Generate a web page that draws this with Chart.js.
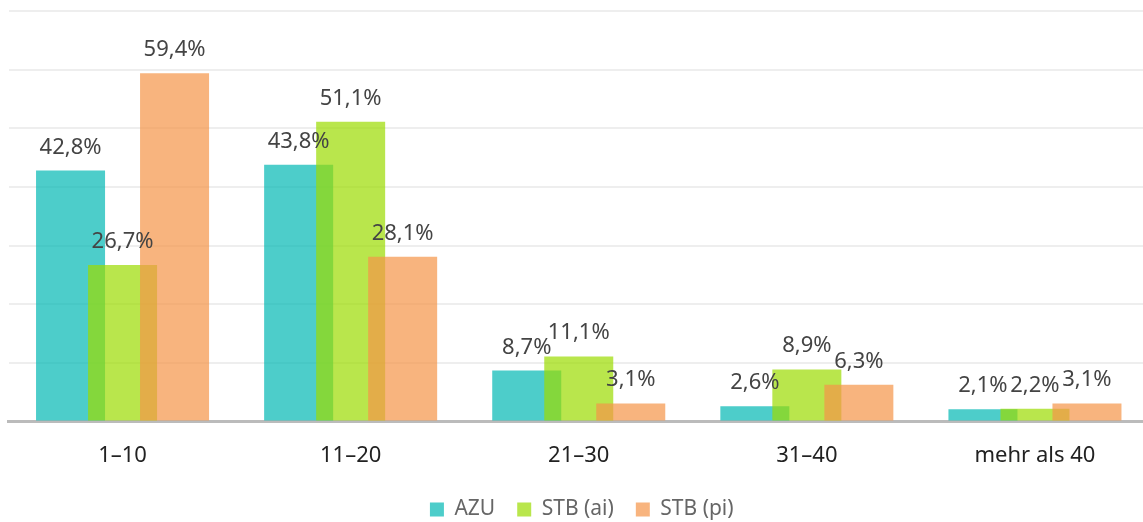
<!DOCTYPE html>
<html>
<head>
<meta charset="utf-8">
<script src="https://cdn.jsdelivr.net/npm/chart.js@4/dist/chart.umd.min.js"></script>
<style>
	html, body { margin: 0; padding: 0; background: #fff; overflow: hidden; }
	#wrapper { width: 1149px; height: 522px; }
</style>
</head>
<body>
<div id="wrapper"><canvas id="bc-groups"></canvas></div>
<script>
const categories = ["1–10", "11–20", "21–30", "31–40", "mehr als 40"];
const seriesNames = ["AZU", "STB (ai)", "STB (pi)"];
const azu = [42.8, 43.8, 8.7, 2.6, 2.1];
const stbAi = [26.7, 51.1, 11.1, 8.9, 2.2];
const stbPi = [59.4, 28.1, 3.1, 6.3, 3.1];
const yTicks = [0, 10, 20, 30, 40, 50, 60, 70];

const colors = ["rgba(2,184,179,0.7)", "rgba(155,219,0,0.7)", "rgba(245,148,71,0.7)"];
const FONT = "'Noto Sans', 'Open Sans', sans-serif";

// later series are painted on top of earlier ones
const forwardDraw = {
	id: "forwardDraw",
	afterLayout(chart) {
		chart.legend.left += 3;
		chart.legend.right += 3;
		chart.legend.top -= 5;
		chart.legend.bottom -= 5;
	},
	beforeDatasetsDraw(chart) {
		const ctx = chart.ctx;
		const area = chart.chartArea;
		ctx.save();
		ctx.beginPath();
		ctx.rect(area.left, area.top - 20, area.right - area.left, area.bottom - area.top + 20);
		ctx.clip();
		for (let i = 0; i < chart.data.datasets.length; i++) {
			const meta = chart.getDatasetMeta(i);
			if (!meta.hidden) meta.controller.draw();
		}
		ctx.restore();
		return false;
	},
	afterDraw(chart) {
		const ctx = chart.ctx;
		ctx.save();
		ctx.font = "22px " + FONT;
		ctx.fillStyle = "#444";
		ctx.textAlign = "center";
		ctx.textBaseline = "alphabetic";
		chart.data.datasets.forEach((ds, i) => {
			chart.getDatasetMeta(i).data.forEach((bar, j) => {
				const txt = ds.data[j].toFixed(1).replace(".", ",") + "%";
				ctx.fillText(txt, bar.x, bar.y - 17);
			});
		});
		ctx.restore();
	},
};

const ctx = document.getElementById("bc-groups").getContext("2d");
new Chart(ctx, {
	type: "bar",
	data: {
		labels: categories,
		datasets: [azu, stbAi, stbPi].map((d, i) => ({
			label: seriesNames[i],
			data: d,
			backgroundColor: colors[i],
			borderWidth: 0,
			categoryPercentage: 0.684,
			barPercentage: 1.327,
		})),
	},
	options: {
		responsive: true,
		maintainAspectRatio: false,
		animation: false,
		layout: { padding: { left: 8.5, top: 11, right: 0, bottom: -13 } },
		scales: {
			x: {
				grid: { display: false },
				border: { display: true, color: "#bbbbbb", width: 3 },
				ticks: {
					color: "#222",
					font: { family: FONT, size: 22 },
					padding: 13,
				},
			},
			y: {
				min: 0,
				max: 70,
				afterBuildTicks(axis) {
					axis.ticks = yTicks.map((v) => ({ value: v }));
				},
				ticks: { display: false },
				border: { display: false },
				grid: { color: "#eeeeee", lineWidth: 2, drawTicks: false },
			},
		},
		plugins: {
			legend: {
				position: "bottom",
				labels: {
					boxWidth: 14,
					boxHeight: 14,
					padding: 22,
					color: "#666",
					font: { family: FONT, size: 21 },
				},
			},
			tooltip: { enabled: false },
		},
	},
	plugins: [forwardDraw],
});
</script>
</body>
</html>
